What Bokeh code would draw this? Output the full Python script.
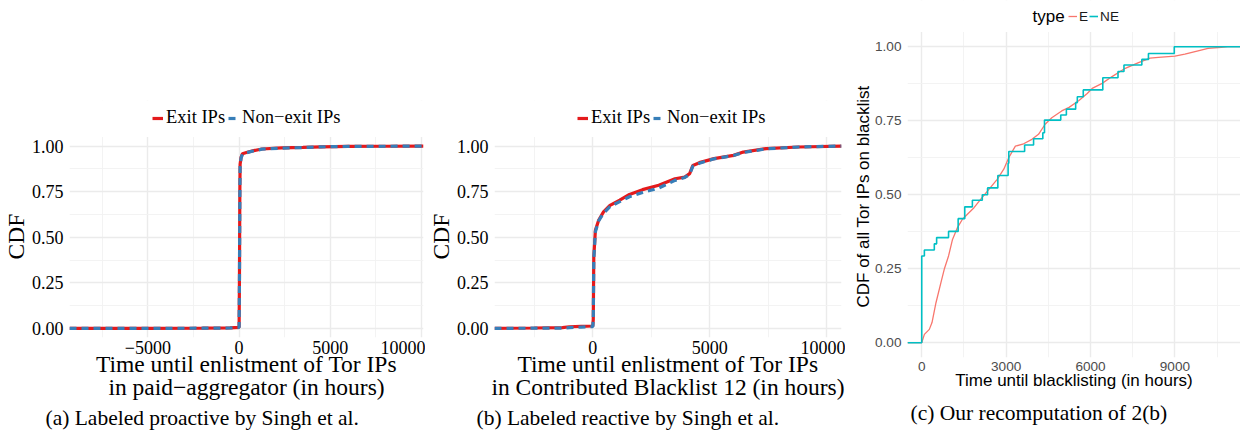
from bokeh.plotting import figure
from bokeh.layouts import row
from bokeh.models import FixedTicker, Legend, LegendItem, Title, Label, Range1d, BoxAnnotation
from bokeh.embed import file_html
from bokeh.resources import INLINE

# ---------------- data ----------------
# (a) paid-aggregator
a_x = [-9300, -5000, -2000, -500, 0, 20, 40, 55, 110, 185, 400, 800, 1250, 2330, 3500, 4510, 6000, 8000, 10110]
a_exit = [0, 0, 0.001, 0.003, 0.006, 0.3, 0.75, 0.90, 0.94, 0.958, 0.965, 0.975, 0.984, 0.99, 0.993, 0.996, 0.998, 0.999, 1.0]
a_nonexit = [0, 0, 0.001, 0.002, 0.005, 0.28, 0.73, 0.89, 0.935, 0.955, 0.963, 0.974, 0.983, 0.989, 0.992, 0.996, 0.998, 0.999, 1.0]

# (b) Contributed Blacklist 12
b_x = [-4200, -2500, -1300, -1000, -500, 0, 20, 42, 110, 250, 458, 733, 1150, 1567, 2125, 2817, 3513, 3929, 4138, 4275, 4554, 5179, 6013, 6429, 7400, 8792, 10625]
b_exit = [0, 0.002, 0.004, 0.009, 0.011, 0.013, 0.05, 0.392, 0.538, 0.593, 0.639, 0.675, 0.703, 0.735, 0.761, 0.785, 0.821, 0.830, 0.849, 0.894, 0.909, 0.931, 0.949, 0.967, 0.986, 0.995, 1.0]
b_nonexit = [0, 0.001, 0.002, 0.004, 0.007, 0.010, 0.05, 0.38, 0.53, 0.59, 0.632, 0.668, 0.695, 0.722, 0.745, 0.770, 0.812, 0.828, 0.845, 0.89, 0.906, 0.93, 0.948, 0.965, 0.985, 0.995, 1.0]

# (c) recomputation
c_e_x = [-506, 0, 94, 270, 365, 506, 682, 800, 953, 1094, 1270, 1446, 1623, 1858, 2093, 2387, 2681, 2916, 3093, 3328, 3622,
         3916, 4151, 4386, 4622, 4975, 5236, 5588, 5882, 6059, 6412, 6764, 7235, 7705, 8117, 8411, 8999, 9352, 9822,
         10175, 10645, 10880, 11330]
c_e_y = [0, 0, 0.028, 0.045, 0.068, 0.135, 0.203, 0.248, 0.293, 0.349, 0.389, 0.417, 0.434, 0.456, 0.484, 0.518, 0.552,
         0.586, 0.625, 0.664, 0.672, 0.687, 0.704, 0.738, 0.76, 0.783, 0.795, 0.818, 0.842, 0.859, 0.876, 0.899, 0.927,
         0.946, 0.961, 0.964, 0.968, 0.975, 0.986, 0.994, 0.998, 1.0, 1.0]
c_ne_x = [-506, 0, 94, 447, 529, 953, 1294, 1529, 1800, 2152, 2340, 2705, 3070, 3094, 3657, 3975, 4304, 4363, 4941, 5141,
          5471, 5530, 5741, 6435, 6976, 7188, 7823, 8058, 8976, 11330]
c_ne_y = [0, 0.293, 0.313, 0.334, 0.355, 0.376, 0.419, 0.459, 0.481, 0.5, 0.523, 0.565, 0.606, 0.646, 0.668, 0.689, 0.709,
          0.752, 0.769, 0.789, 0.811, 0.831, 0.854, 0.895, 0.916, 0.938, 0.957, 0.977, 1.0, 1.0]

y_ticks = [0, 0.25, 0.5, 0.75, 1.0]
y_tick_labels = ["0.00", "0.25", "0.50", "0.75", "1.00"]
y_minor = [0.125, 0.375, 0.625, 0.875]
ab_x_ticks = [-5000, 0, 5000, 10000]
ab_x_tick_labels = ["\u22125000", "0", "5000", "10000"]
ab_x_minor = [-7500, -2500, 2500, 7500]
c_x_ticks = [0, 3000, 6000, 9000]
c_x_tick_labels = ["0", "3000", "6000", "9000"]
c_x_minor = [1500, 4500, 7500, 10500]

labels_ab = ["Exit IPs", "Non\u2212exit IPs"]
labels_c = ["E", "NE"]
legend_c_title = "type"
captions = ["(a) Labeled proactive by Singh et al.",
            "(b) Labeled reactive by Singh et al.",
            "(c) Our recomputation of 2(b)"]

SERIF = "Liberation Serif"
SANS = "Liberation Sans"
RED = "#E41A1C"
BLUE = "#377EB8"
C_E = "#F8766D"
C_NE = "#00BFC4"
H = 431
Y_LO, Y_HI = -0.05, 1.05   # panel limits of the data area


def base_style(p, font, tick_size, tick_color):
    p.outline_line_color = None
    p.background_fill_color = "white"
    p.border_fill_color = "white"
    p.frame_align = False
    for ax in p.axis:
        ax.axis_line_color = None
        ax.major_tick_line_color = None
        ax.minor_tick_line_color = None
        ax.major_tick_out = 0
        ax.major_tick_in = 0
        ax.major_label_text_font = font
        ax.major_label_text_font_size = tick_size
        ax.major_label_text_color = tick_color
        ax.axis_label_text_font = font
        ax.axis_label_text_font_style = "normal"
        ax.axis_label_text_color = "black"
    for g in p.grid:
        g.grid_line_color = "#EBEBEB"
        g.grid_line_width = 1.4
        g.minor_grid_line_color = "#F2F2F2"
        g.minor_grid_line_width = 0.9
    # blank strip above the data panel (legend area)
    p.add_layout(BoxAnnotation(bottom=Y_HI, fill_color="white", fill_alpha=1.0, line_color=None))


def set_ticks(p, xt, xl, xm):
    xtk = FixedTicker(ticks=xt, minor_ticks=xm)
    ytk = FixedTicker(ticks=y_ticks, minor_ticks=y_minor)
    p.xaxis.ticker = xtk
    p.yaxis.ticker = ytk
    p.xgrid.ticker = xtk
    p.ygrid.ticker = ytk
    p.xaxis.major_label_overrides = dict(zip(xt, xl))
    p.yaxis.major_label_overrides = dict(zip(y_ticks, y_tick_labels))


def caption(p, text, offset, standoff):
    p.add_layout(Title(text=text, align="left", offset=offset, standoff=standoff,
                       text_font=SERIF, text_font_size="21.5px", text_font_style="normal",
                       text_color="black"), "below")


def make_ab(x, y1, y2, xr, width, ml, mr, xlabel, cap_text, cap_off):
    p = figure(width=width, height=H, x_range=Range1d(*xr), y_range=Range1d(Y_LO, 1.25),
               output_backend="svg", toolbar_location=None, title=None,
               min_border_left=ml, min_border_right=mr, min_border_top=100, min_border_bottom=94)
    r1 = p.line(x, y1, color=RED, line_width=3.2)
    r2 = p.line(x, y2, color=BLUE, line_width=3.2, line_dash="7 5")
    base_style(p, SERIF, "18px", "black")
    set_ticks(p, ab_x_ticks, ab_x_tick_labels, ab_x_minor)
    p.xaxis.axis_label = xlabel
    p.xaxis.axis_label_text_font_size = "23.5px"
    p.xaxis.axis_label_text_line_height = 0.92
    p.xaxis.major_label_standoff = -1
    p.xaxis.axis_label_standoff = -6
    p.yaxis.major_label_standoff = 2
    p.add_layout(Title(text="CDF", align="left", offset=78, standoff=0,
                       text_font=SERIF, text_font_size="23.5px", text_font_style="normal",
                       text_color="black"), "left")
    leg = Legend(items=[LegendItem(label=labels_ab[0], renderers=[r1]),
                        LegendItem(label=labels_ab[1], renderers=[r2])],
                 orientation="horizontal", location=(83, 209),
                 glyph_width=11, glyph_height=18, label_height=18, label_width=0,
                 label_standoff=3, spacing=3,
                 padding=0, margin=0, border_line_color=None, background_fill_alpha=0,
                 label_text_font=SERIF, label_text_font_size="18.5px", label_text_color="black")
    p.add_layout(leg)
    caption(p, cap_text, cap_off, 0)
    return p


pa = make_ab(a_x, a_exit, a_nonexit, (-9300, 10110), 425, 67, 2,
             "Time until enlistment of Tor IPs\nin paid\u2212aggregator (in hours)", captions[0], -24)
pb = make_ab(b_x, b_exit, b_nonexit, (-4200, 10625), 420, 60, 4,
             "Time until enlistment of Tor IPs\nin Contributed Blacklist 12 (in hours)", captions[1], -18)

pc = figure(width=395, height=H, x_range=Range1d(-506, 11330), y_range=Range1d(Y_LO, 1.156),
            output_backend="svg", toolbar_location=None, title=None,
            min_border_left=62, min_border_right=0, min_border_top=0, min_border_bottom=74)
rc1 = pc.line(c_e_x, c_e_y, color=C_E, line_width=1.3)
rc2 = pc.step(c_ne_x, c_ne_y, mode="after", color=C_NE, line_width=1.6)
base_style(pc, SANS, "13.6px", "#4D4D4D")
set_ticks(pc, c_x_ticks, c_x_tick_labels, c_x_minor)
pc.xaxis.axis_label = "Time until blacklisting (in hours)"
pc.xaxis.axis_label_text_font_size = "17px"
pc.xaxis.major_label_standoff = 0
pc.xaxis.axis_label_standoff = -3
pc.yaxis.major_label_standoff = 2
pc.add_layout(Title(text="CDF of all Tor IPs on blacklist", align="left", offset=50, standoff=0,
                    text_font=SANS, text_font_size="17px", text_font_style="normal",
                    text_color="black"), "left")
legc = Legend(items=[LegendItem(label=labels_c[0], renderers=[rc1]),
                     LegendItem(label=labels_c[1], renderers=[rc2])],
              orientation="horizontal", location=(161, 333),
              glyph_width=9, glyph_height=16, label_height=16, label_width=0,
              label_standoff=2, spacing=1,
              padding=0, margin=0, border_line_color=None, background_fill_alpha=0,
              label_text_font=SANS, label_text_font_size="13.6px", label_text_color="#1a1a1a")
pc.add_layout(legc)
pc.add_layout(Label(x=125, y=341, x_units="screen", y_units="screen", text=legend_c_title,
                    text_align="left", text_baseline="middle",
                    text_font=SANS, text_font_size="17px", text_color="black"))
caption(pc, captions[2], 3, 12)

layout = row(pa, pb, pc)
open("out.html", "w").write(file_html(layout, INLINE))
